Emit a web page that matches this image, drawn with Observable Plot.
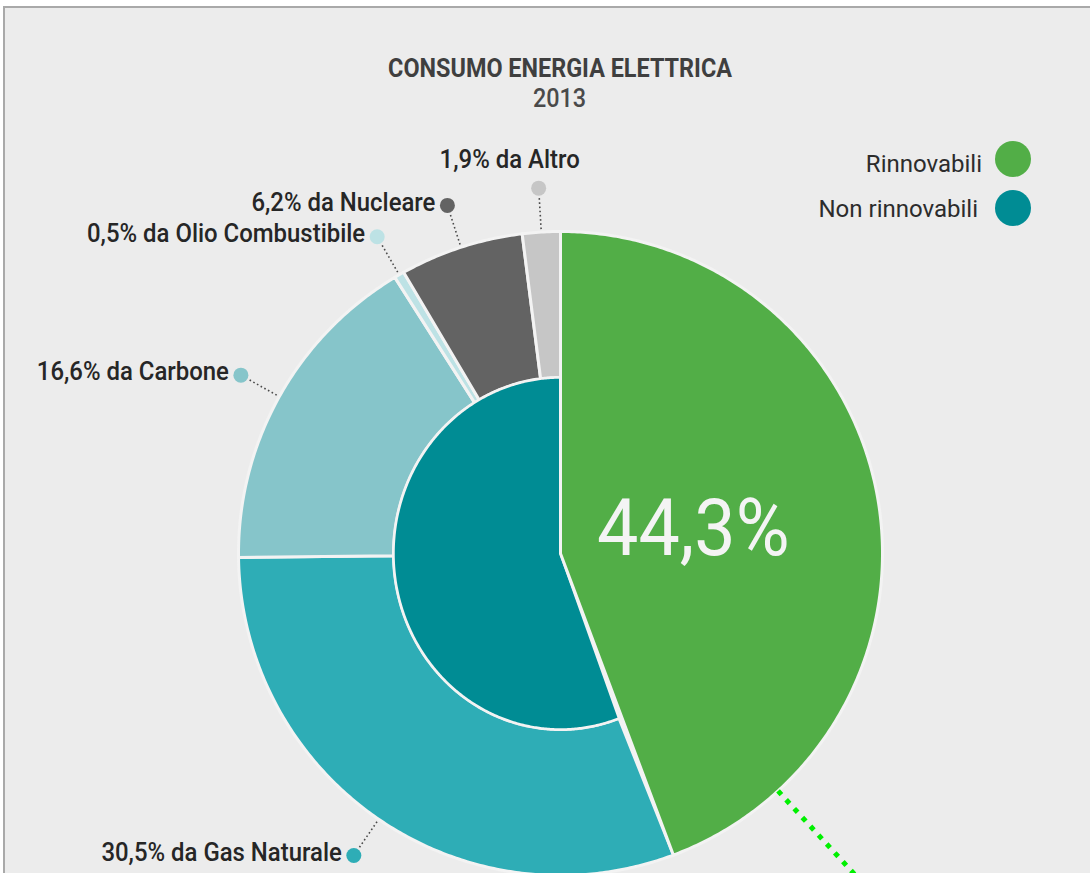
<!DOCTYPE html>
<html><head><meta charset="utf-8">
<script src="https://cdn.jsdelivr.net/npm/d3@7"></script>
<script src="https://cdn.jsdelivr.net/npm/@observablehq/plot@0.6"></script>
<style>
body{margin:0;background:#fff;font-family:Roboto,"Open Sans",sans-serif;}
#wrap{position:relative;width:1090px;height:873px;overflow:hidden;background:#fff;}
#frame{position:absolute;left:3px;top:6px;width:1100px;height:880px;background:#ececec;border-top:2px solid #a9a9a9;border-left:2px solid #a9a9a9;}
#chart{position:absolute;left:0;top:0;}
.ttl{position:absolute;left:30px;width:1060px;text-align:center;line-height:1;font-size:26px;color:#3f3f3f;}
.ttl span{display:inline-block;transform:scaleX(0.9);}
.leg{position:absolute;line-height:1;font-size:24px;color:#2c2c2c;text-align:right;}
.sw{position:absolute;width:36px;height:36px;border-radius:50%;}
</style>
</head><body>
<div id="wrap">
  <div id="frame"></div>
  <div id="chart"></div>
  <div class="ttl" style="top:55px;font-weight:700;"><span>CONSUMO ENERGIA ELETTRICA</span></div>
  <div class="ttl" style="top:85px;font-weight:500;color:#4a4a4a;"><span>2013</span></div>
  <div id="legend"></div>
</div>
<script>
// ---- data ----
const groups = ["Rinnovabili", "Non rinnovabili"];
const groupShares = [44.3, 55.7];
const groupColors = ["#52ae47", "#008c94"];

const sources = ["Gas Naturale", "Carbone", "Olio Combustibile", "Nucleare", "Altro"];
const sourceShares = [30.5, 16.6, 0.5, 6.2, 1.9];
const sourceColors = ["#2eadb6", "#86c5ca", "#bde2e5", "#636363", "#c6c6c6"];

// ---- geometry helpers (radii in pixel units of the x/y scales) ----
const R = 322, rIx = 167, rIy = 176, rDot = 366;
const TAU = Math.PI * 2;
const fmt = v => v.toFixed(1).replace(".", ",");

function arc(key, fill, a0, a1, rix, riy, ro) {
  const n = Math.max(2, Math.ceil((a1 - a0) / (Math.PI / 360)));
  const pts = [];
  for (let i = 0; i <= n; i++) {
    const a = a0 + (a1 - a0) * i / n;
    pts.push({key, fill, x: ro * Math.sin(a), y: ro * Math.cos(a)});
  }
  if (rix === 0) pts.push({key, fill, x: 0, y: 0});
  else for (let i = n; i >= 0; i--) {
    const a = a0 + (a1 - a0) * i / n;
    pts.push({key, fill, x: rix * Math.sin(a), y: riy * Math.cos(a)});
  }
  return pts;
}
function ellipse(key, fill, a0, a1, rx, ry) {
  const n = Math.ceil((a1 - a0) / (Math.PI / 360));
  const pts = [];
  for (let i = 0; i <= n; i++) {
    const a = a0 + (a1 - a0) * i / n;
    pts.push({key, fill, x: rx * Math.sin(a), y: ry * Math.cos(a)});
  }
  pts.push({key, fill, x: 0, y: 0});
  return pts;
}

const total = d3.sum(groupShares);
const greenEnd = groupShares[0] / total * TAU;

// inner & green pies
const innerPts = ellipse(groups[1], groupColors[1], greenEnd, TAU, rIx, rIy);
const greenPts = arc(groups[0], groupColors[0], 0, greenEnd, 0, 0, R);

// outer ring
let acc = groupShares[0];
const ring = sources.map((s, i) => {
  const a0 = acc / total * TAU; acc += sourceShares[i];
  const a1 = acc / total * TAU;
  return {name: s, share: sourceShares[i], color: sourceColors[i], a0, a1, mid: (a0 + a1) / 2};
});
const ringPts = ring.flatMap(d => arc(d.name, d.color, d.a0, d.a1, rIx, rIy, R));

const labels = ring.map(d => ({
  ...d,
  label: `${fmt(d.share)}% da ${d.name}`,
  x1: (R + 3) * Math.sin(d.mid), y1: (R + 3) * Math.cos(d.mid),
  x2: (rDot - 8) * Math.sin(d.mid), y2: (rDot - 8) * Math.cos(d.mid),
  x: rDot * Math.sin(d.mid), y: rDot * Math.cos(d.mid)
}));
const sideLabels = labels.filter(d => d.name !== "Altro");
const topLabels = labels.filter(d => d.name === "Altro");

const greenMid = greenEnd / 2;
const bigLabel = [{text: `${fmt(groupShares[0])}%`, x: 135 * Math.sin(greenMid), y: 135 * Math.cos(greenMid)}];

// highlighted leader for the renewable slice
const leadAngle = 137.5 / 360 * TAU;
const greenLead = [{x1: R * Math.sin(leadAngle), y1: R * Math.cos(leadAngle), x2: 470 * Math.sin(leadAngle), y2: 470 * Math.cos(leadAngle)}];

const plot = Plot.plot({
  width: 1090, height: 873,
  margin: 0,
  x: {domain: [-560, 530], axis: null},
  y: {domain: [-320, 553], axis: null},
  color: {type: "identity"},
  style: {background: "transparent", fontFamily: "Roboto, sans-serif", overflow: "visible"},
  marks: [
    Plot.line(ringPts, {x: "x", y: "y", z: "key", fill: "fill", stroke: "#f3f3f3", strokeWidth: 3, curve: "linear-closed", strokeLinejoin: "round"}),
    Plot.line(innerPts, {x: "x", y: "y", z: "key", fill: "fill", stroke: "#f3f3f3", strokeWidth: 2.5, curve: "linear-closed", strokeLinejoin: "round"}),
    Plot.line(greenPts, {x: "x", y: "y", z: "key", fill: "fill", stroke: "#f3f3f3", strokeWidth: 3, curve: "linear-closed", strokeLinejoin: "round"}),
    Plot.link(labels, {x1: "x1", y1: "y1", x2: "x2", y2: "y2", stroke: "#4a4a4a", strokeWidth: 1.6, strokeDasharray: "1.6,2.6"}),
    Plot.link(greenLead, {x1: "x1", y1: "y1", x2: "x2", y2: "y2", stroke: "#00f000", strokeWidth: 5, strokeDasharray: "5,7"}),
    Plot.dot(labels, {x: "x", y: "y", r: 7.5, fill: "color"}),
    Plot.text(sideLabels, {x: "x", y: "y", text: "label", textAnchor: "end", dx: -12, dy: -3, fontSize: 26, fontWeight: 500, fill: "#262626"}),
    Plot.text(topLabels, {x: "x", y: "y", text: "label", textAnchor: "middle", dx: -29, dy: -28, fontSize: 26, fontWeight: 500, fill: "#262626"}),
    Plot.text(bigLabel, {x: "x", y: "y", text: "text", fontSize: 80, fontWeight: 400, fill: "#f4f4f4"})
  ]
});
document.getElementById("chart").appendChild(plot);
// condensed look (as in the original typeface)
plot.querySelectorAll("text").forEach(t => {
  const f = t.textContent === bigLabel[0].text ? 0.92 : 0.92;
  const L = t.getComputedTextLength();
  if (L > 0) {
    t.setAttribute("textLength", (L * f).toFixed(1));
    t.setAttribute("lengthAdjust", "spacingAndGlyphs");
  }
});

// legend
const leg = document.getElementById("legend");
const legTop = [152, 197], legRight = [108, 112], swTop = [141, 190];
groups.forEach((g, i) => {
  const t = document.createElement("div");
  t.className = "leg"; t.textContent = g;
  t.style.top = legTop[i] + "px"; t.style.right = legRight[i] + "px";
  leg.appendChild(t);
  const s = document.createElement("div");
  s.className = "sw"; s.style.background = groupColors[i];
  s.style.left = "995px"; s.style.top = swTop[i] + "px";
  leg.appendChild(s);
});
</script>
</body></html>
